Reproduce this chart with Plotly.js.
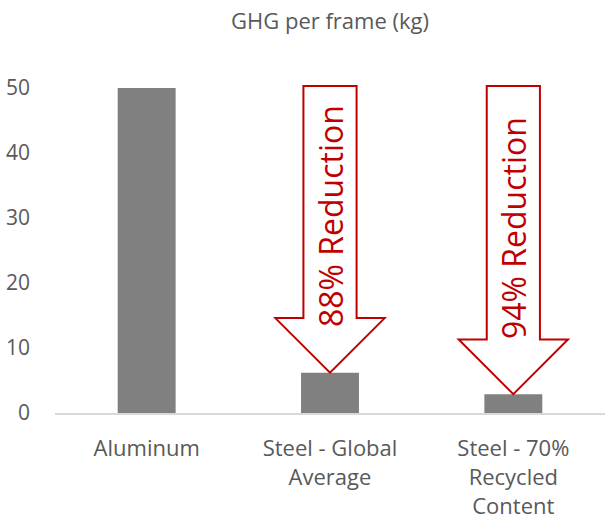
<!DOCTYPE html>
<html>
<head>
<meta charset="utf-8">
<script src="https://cdn.plot.ly/plotly-3.0.1.min.js"></script>
<style>html,body{margin:0;padding:0;background:#fff;}#chart{width:605px;height:519px;}</style>
</head>
<body>
<div id="chart"></div>
<script>
// Data
const categories = ["Aluminum", "Steel - Global<br>Average", "Steel - 70%<br>Recycled<br>Content"];
const ghgValues = [50, 6.2, 2.9];
const reductionLabels = ["", "88% Reduction", "94% Reduction"];
const yTickValues = [0, 10, 20, 30, 40, 50];

// Styling constants
const barColor = "#808080";
const red = "#C00000";
const textColor = "#595959";
const shaftHalf = 0.145;   // x units
const headHalf = 0.298;    // x units
const headHeight = 8.4;    // y units
const arrowTop = 50.3;
const labelY = [null, 30.3, 28.5];

const xIdx = categories.map((c, i) => i);

const shapes = [];
const annotations = [];
reductionLabels.forEach((lab, i) => {
  if (!lab) return;
  const tip = ghgValues[i];
  const hb = tip + headHeight;
  const path = `M ${i - shaftHalf} ${arrowTop} L ${i + shaftHalf} ${arrowTop} L ${i + shaftHalf} ${hb} ` +
               `L ${i + headHalf} ${hb} L ${i} ${tip} L ${i - headHalf} ${hb} L ${i - shaftHalf} ${hb} Z`;
  shapes.push({type: "path", xref: "x", yref: "y", path: path,
    fillcolor: "#ffffff", line: {color: red, width: 2}, layer: "above"});
  annotations.push({x: i, y: labelY[i], xref: "x", yref: "y", text: lab, textangle: -90,
    showarrow: false, font: {family: "Open Sans", size: 32, color: red}});
});

const trace = {
  type: "bar",
  x: xIdx,
  y: ghgValues,
  marker: {color: barColor},
  width: 0.316,
  hoverinfo: "skip"
};

const layout = {
  width: 605, height: 519,
  margin: {l: 55, r: 0, t: 75, b: 106},
  paper_bgcolor: "#ffffff", plot_bgcolor: "#ffffff",
  showlegend: false,
  title: {text: "GHG per frame (kg)", xref: "paper", x: 0.5, yref: "container", y: 0.958, yanchor: "middle",
    font: {family: "Open Sans", size: 22, color: textColor}},
  xaxis: {
    type: "linear", range: [-0.5, 2.5],
    tickvals: xIdx, ticktext: categories,
    showgrid: false, zeroline: false,
    showline: true, linecolor: "#D9D9D9", linewidth: 2,
    ticks: "", ticklabelstandoff: 15,
    tickfont: {family: "Open Sans", size: 22, color: textColor}
  },
  yaxis: {
    range: [0, 52], tickvals: yTickValues,
    showgrid: false, zeroline: false, showline: false,
    ticks: "", ticklabelstandoff: 24,
    tickfont: {family: "Open Sans", size: 21, color: textColor}
  },
  shapes: shapes,
  annotations: annotations
};

Plotly.newPlot("chart", [trace], layout, {displayModeBar: false, staticPlot: true});
</script>
</body>
</html>
